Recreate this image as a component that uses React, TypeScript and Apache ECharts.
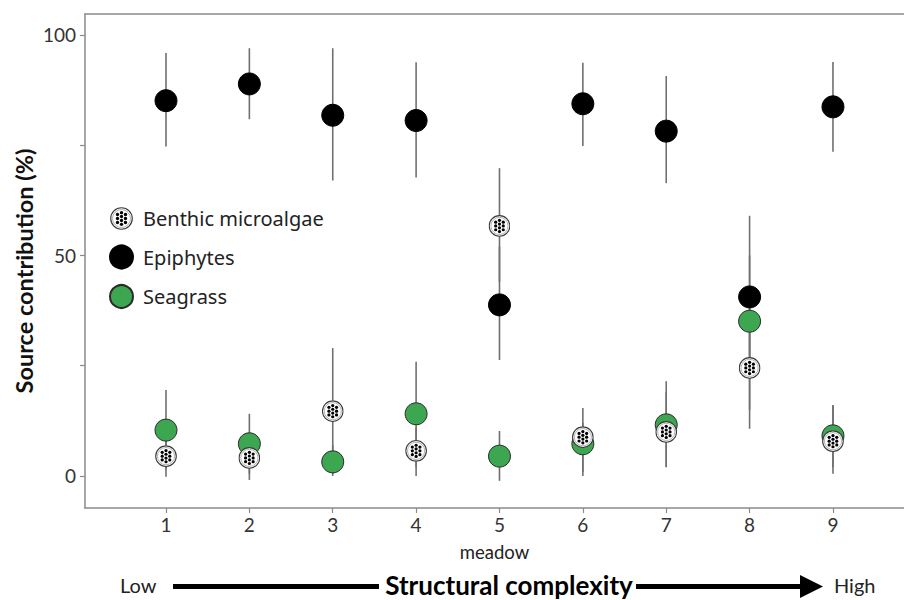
import React, { useEffect, useRef } from "react";
import * as echarts from "echarts";

const meadows = [1, 2, 3, 4, 5, 6, 7, 8, 9];

const benthicMean = [4.5, 4.1, 14.7, 5.7, 56.7, 8.8, 10.0, 24.5, 7.9];
const benthicLow = [-0.2, -0.9, 0.5, 0.0, 44.0, 0.9, 2.0, 10.7, 0.5];
const benthicHigh = [9.0, 9.0, 29.0, 11.0, 69.8, 15.4, 21.5, 38.0, 16.1];

const epiphyteMean = [85.1, 88.9, 81.8, 80.6, 38.8, 84.4, 78.2, 40.6, 83.7];
const epiphyteLow = [74.7, 80.9, 67.0, 67.7, 26.3, 74.8, 66.4, 22.0, 73.5];
const epiphyteHigh = [95.9, 97.0, 97.0, 93.8, 52.0, 93.7, 90.7, 59.0, 93.9];

const seagrassMean = [10.4, 7.3, 3.2, 14.1, 4.5, 7.3, 11.6, 35.1, 9.1];
const seagrassLow = [1.5, 0.5, 0.0, 2.0, -1.1, 0.0, 2.0, 15.0, 2.0];
const seagrassHigh = [19.5, 14.1, 7.0, 25.9, 10.2, 12.0, 19.0, 50.0, 16.0];

const yTicks = [0, 25, 50, 75, 100];
const yLabels = [0, 50, 100];

const FONT = "Lato";
const AXIS_COLOR = "#8a8a8a";

function benthicSvg(): string {
  const c = 11;
  const r = 1.6;
  const dots: string[] = [];
  const mid = [-5.6, -1.9, 1.9, 5.6];
  const side = [-3.8, 0, 3.8];
  mid.forEach((dy) => dots.push(`<circle cx='${c}' cy='${c + dy}' r='${r}' fill='black'/>`));
  side.forEach((dy) => {
    dots.push(`<circle cx='${c - 3.8}' cy='${c + dy}' r='${r}' fill='black'/>`);
    dots.push(`<circle cx='${c + 3.8}' cy='${c + dy}' r='${r}' fill='black'/>`);
  });
  const svg =
    `<svg xmlns='http://www.w3.org/2000/svg' width='22' height='22' viewBox='0 0 22 22'>` +
    `<circle cx='11' cy='11' r='10.3' fill='white' stroke='#3a3a3a' stroke-width='1.1'/>` +
    `<circle cx='11' cy='11' r='8.6' fill='none' stroke='#a0a0a0' stroke-width='0.8'/>` +
    dots.join("") +
    `</svg>`;
  return "image://data:image/svg+xml;charset=utf-8," + encodeURIComponent(svg);
}

function errData(low: number[], high: number[]) {
  return meadows.map((m, i) => [m, low[i], high[i]]);
}

function errorSeries(name: string, low: number[], high: number[]) {
  return {
    type: "custom",
    name,
    silent: true,
    z: 1,
    encode: { x: 0, y: [1, 2] },
    data: errData(low, high),
    renderItem: (params: any, api: any) => {
      const x = api.value(0);
      const lo = api.coord([x, api.value(1)]);
      const hi = api.coord([x, api.value(2)]);
      return {
        type: "line",
        shape: { x1: lo[0], y1: lo[1], x2: hi[0], y2: hi[1] },
        style: { stroke: "#707070", lineWidth: 1.6 },
      };
    },
  };
}

export default function App() {
  const ref = useRef<HTMLDivElement>(null);

  useEffect(() => {
    document.body.style.margin = "0";
    document.body.style.overflow = "hidden";
    document.documentElement.style.overflow = "hidden";
    if (!ref.current) return;
    const chart = echarts.init(ref.current, undefined, { renderer: "svg" });
    const benthicIcon = benthicSvg();
    const X_MIN = 0.0285;
    const X_MAX = 9.852;

    const option: any = {
      animation: false,
      backgroundColor: "#ffffff",
      grid: {
        left: 85,
        right: 0,
        top: 14,
        bottom: 92,
        show: false,
      },
      legend: {
        orient: "vertical",
        left: 104,
        top: 202,
        itemWidth: 23,
        itemHeight: 23,
        itemGap: 14.5,
        textStyle: { fontSize: 20, fontFamily: "Noto Sans", color: "#222", padding: [0, 0, 0, 5] },
        selectedMode: false,
        data: [
          { name: "Benthic microalgae", icon: benthicIcon },
          { name: "Epiphytes", icon: "circle" },
          { name: "Seagrass", icon: "circle" },
        ],
      },
      xAxis: [
        {
          type: "value",
          min: X_MIN,
          max: X_MAX,
          name: "meadow",
          nameLocation: "middle",
          nameGap: 34,
          nameTextStyle: { fontSize: 18.5, fontFamily: FONT, color: "#222" },
          axisLine: { show: true, onZero: false, lineStyle: { color: AXIS_COLOR, width: 1.5 } },
          axisTick: { show: true, length: 5, customValues: meadows, lineStyle: { color: AXIS_COLOR, width: 1.2 } },
          axisLabel: {
            customValues: meadows,
            fontSize: 19,
            fontFamily: FONT,
            color: "#333",
            margin: 7,
          },
          splitLine: { show: false },
        },
        {
          type: "value",
          position: "top",
          min: X_MIN,
          max: X_MAX,
          axisLine: { show: true, onZero: false, lineStyle: { color: AXIS_COLOR, width: 1.5 } },
          axisTick: { show: false },
          axisLabel: { show: false },
          splitLine: { show: false },
        },
      ],
      yAxis: {
        type: "value",
        min: -7.26,
        max: 104.76,
        axisLine: { show: true, onZero: false, lineStyle: { color: AXIS_COLOR, width: 1.5 } },
        axisTick: { show: true, length: 5, customValues: yTicks, lineStyle: { color: AXIS_COLOR, width: 1.2 } },
        axisLabel: {
          customValues: yLabels,
          fontSize: 19,
          fontFamily: FONT,
          color: "#333",
          margin: 9,
        },
        splitLine: { show: false },
      },
      series: [
        errorSeries("errEpiphytes", epiphyteLow, epiphyteHigh),
        errorSeries("errBenthic", benthicLow, benthicHigh),
        errorSeries("errSeagrass", seagrassLow, seagrassHigh),
        {
          type: "scatter",
          name: "Seagrass",
          z: 3,
          symbol: "circle",
          symbolSize: 22,
          itemStyle: { color: "#3da650", borderColor: "#2b2b2b", borderWidth: 1, opacity: 1 },
          data: meadows.map((m, i) => [m, seagrassMean[i]]),
        },
        {
          type: "scatter",
          name: "Epiphytes",
          z: 4,
          symbol: "circle",
          symbolSize: 22,
          itemStyle: { color: "#000000", borderColor: "#000000", borderWidth: 1, opacity: 1 },
          data: meadows.map((m, i) => [m, epiphyteMean[i]]),
        },
        {
          type: "scatter",
          name: "Benthic microalgae",
          z: 5,
          symbol: benthicIcon,
          symbolSize: 22,
          itemStyle: { color: "#ffffff", opacity: 1 },
          data: meadows.map((m, i) => [m, benthicMean[i]]),
        },
      ],
      graphic: [
        {
          type: "text",
          x: 24,
          y: 271,
          rotation: Math.PI / 2,
          style: {
            text: "Source contribution (%)",
            fontSize: 23.5,
            fontWeight: "bold",
            fontFamily: FONT,
            fill: "#111",
            align: "center",
            verticalAlign: "middle",
          },
        },
        {
          type: "text",
          left: 120,
          top: 575,
          style: { text: "Low", fontSize: 20, fontFamily: FONT, fill: "#222" },
        },
        { type: "rect", shape: { x: 173, y: 584, width: 206, height: 5 }, style: { fill: "#000" } },
        {
          type: "text",
          x: 509,
          y: 585,
          style: {
            text: "Structural complexity",
            fontSize: 26,
            fontWeight: "bold",
            fontFamily: FONT,
            fill: "#000",
            align: "center",
            verticalAlign: "middle",
          },
        },
        { type: "rect", shape: { x: 636, y: 584, width: 167, height: 5 }, style: { fill: "#000" } },
        {
          type: "polygon",
          shape: { points: [[800, 575], [823, 586.5], [800, 598]] },
          style: { fill: "#000" },
        },
        {
          type: "text",
          left: 834,
          top: 575,
          style: { text: "High", fontSize: 20, fontFamily: FONT, fill: "#222" },
        },
      ],
    };

    chart.setOption(option);
    return () => chart.dispose();
  }, []);

  return <div ref={ref} style={{ width: 904, height: 600 }} />;
}
